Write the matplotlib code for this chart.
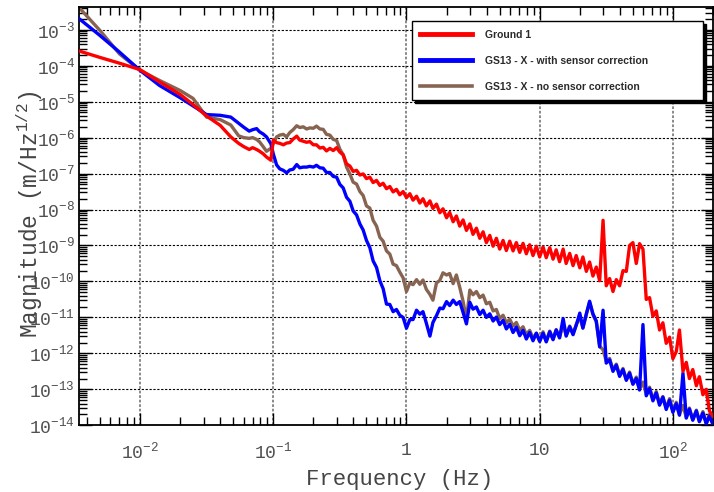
import matplotlib
matplotlib.use('Agg')
import matplotlib.pyplot as plt
import numpy as np
from matplotlib.ticker import LogLocator, FuncFormatter, NullFormatter

plt.rcParams['font.family'] = ['Liberation Mono', 'DejaVu Sans']
plt.rcParams['mathtext.fontset'] = 'custom'
plt.rcParams['mathtext.rm'] = 'Liberation Mono'
plt.rcParams['mathtext.it'] = 'Liberation Mono'

# frequency bins (Hz)
freq = [0.00348, 0.005, 0.007, 0.01, 0.014, 0.02, 0.025, 0.0316, 0.04, 0.048,
        0.055, 0.06, 0.066, 0.07, 0.075, 0.079, 0.084, 0.089, 0.096,
        0.1, 0.106, 0.112, 0.119, 0.126, 0.133, 0.141, 0.15, 0.158, 0.168,
        0.178, 0.188, 0.2, 0.211, 0.224, 0.237, 0.251, 0.266, 0.282, 0.299,
        0.316, 0.335, 0.355, 0.376, 0.398, 0.422, 0.447, 0.473, 0.501, 0.531,
        0.562, 0.596, 0.631, 0.668, 0.708, 0.75, 0.794, 0.841, 0.891, 0.944,
        1.0, 1.06, 1.12, 1.19, 1.26, 1.33, 1.41, 1.5, 1.58, 1.68,
        1.78, 1.88, 2.0, 2.11, 2.24, 2.37, 2.51, 2.66, 2.82, 2.99,
        3.16, 3.35, 3.55, 3.76, 3.98, 4.22, 4.47, 4.73, 5.01, 5.31,
        5.62, 5.96, 6.31, 6.68, 7.08, 7.5, 7.94, 8.41, 8.91, 9.44,
        10, 10.6, 11.2, 11.9, 12.6, 13.3, 14.1, 15, 15.8, 16.8,
        17.8, 18.8, 20, 21.1, 22.4, 23.7, 25.1, 26.6, 28.2, 29.9,
        31.6, 33.5, 35.5, 37.6, 39.8, 42.2, 44.7, 47.3, 50.1, 53.1,
        56.2, 59.6, 63.1, 66.8, 70.8, 75, 79.4, 84.1, 89.1, 94.4,
        100, 106, 112, 119, 126, 133, 141, 150, 158, 168, 178, 188, 200]

# log10 of magnitude (m/Hz^1/2)
ground_log = [-3.59, -3.77, -3.93, -4.11, -4.45, -4.80, -5.08, -5.40, -5.66, -5.98,
              -6.16, -6.25, -6.33, -6.28, -6.33, -6.38, -6.45, -6.54, -6.63,
              -6.07, -6.14, -6.16, -6.20, -6.15, -6.14, -6.04, -5.96, -6.07, -6.10,
              -6.13, -6.11, -6.20, -6.20, -6.29, -6.27, -6.37, -6.30, -6.36, -6.28,
              -6.40, -6.48, -6.73, -6.79, -6.94, -6.91, -7.04, -7.01, -7.14, -7.10,
              -7.25, -7.19, -7.33, -7.27, -7.42, -7.36, -7.51, -7.44, -7.59, -7.50,
              -7.67, -7.56, -7.74, -7.63, -7.82, -7.70, -7.90, -7.76, -7.97, -7.85,
              -8.09, -7.98, -8.23, -8.08, -8.34, -8.18, -8.46, -8.29, -8.58, -8.40,
              -8.69, -8.52, -8.80, -8.62, -8.92, -8.72, -9.02, -8.80, -9.10, -8.86,
              -9.14, -8.88, -9.15, -8.92, -9.19, -8.94, -9.23, -8.98, -9.28, -9.02,
              -9.32, -9.04, -9.34, -9.06, -9.38, -9.12, -9.45, -9.10, -9.50, -9.22,
              -9.56, -9.28, -9.62, -9.32, -9.72, -9.46, -9.85, -9.60, -9.98, -8.30,
              -10.12, -9.92, -10.28, -9.95, -10.12, -9.70, -9.72, -9.00, -8.92, -9.50,
              -8.95, -9.10, -10.50, -10.45, -10.97, -10.82, -11.35, -11.15, -11.72, -11.55,
              -12.15, -11.95, -11.35, -12.50, -12.25, -12.70, -12.45, -12.90, -12.65, -13.15,
              -13.00, -13.60, -13.75]

with_sc_log = [-2.69, -3.16, -3.62, -4.13, -4.55, -4.89, -5.12, -5.36, -5.38, -5.43,
               -5.60, -5.71, -5.82, -5.78, -5.75, -5.84, -5.90, -5.98, -6.17,
               -6.45, -6.76, -6.87, -6.91, -6.98, -6.90, -6.88, -6.75, -6.84, -6.82,
               -6.82, -6.80, -6.82, -6.77, -6.84, -6.85, -6.97, -6.97, -7.08, -7.10,
               -7.30, -7.40, -7.66, -7.77, -8.04, -8.15, -8.40, -8.57, -8.86, -9.06,
               -9.43, -9.61, -9.98, -10.20, -10.63, -10.64, -10.84, -10.78, -10.94, -11.00,
               -11.30, -11.06, -11.06, -10.80, -10.91, -10.84, -11.16, -11.52, -11.14, -10.95,
               -10.74, -10.76, -10.56, -10.67, -10.52, -10.64, -10.56, -10.86, -11.18, -10.58,
               -10.77, -10.71, -10.92, -10.80, -11.00, -10.90, -11.10, -10.99, -11.20, -11.08,
               -11.32, -11.19, -11.42, -11.27, -11.51, -11.36, -11.60, -11.42, -11.65, -11.44,
               -11.67, -11.44, -11.68, -11.40, -11.62, -11.35, -11.57, -11.03, -11.52, -11.26,
               -11.48, -11.22, -10.88, -11.30, -10.90, -10.55, -10.90, -11.10, -11.82, -10.80,
               -12.27, -12.18, -12.50, -12.33, -12.64, -12.45, -12.75, -12.55, -12.86, -12.70,
               -13.02, -11.20, -13.18, -12.98, -13.32, -13.10, -13.44, -13.22, -13.56, -13.30,
               -13.64, -13.40, -13.72, -12.55, -13.80, -13.55, -13.86, -13.60, -13.90, -13.66,
               -13.96, -13.74, -13.98]

no_sc_log = [-2.38, -3.02, -3.67, -4.13, -4.41, -4.69, -4.91, -5.43, -5.50, -5.65,
             -5.95, -6.00, -6.02, -6.00, -6.05, -6.12, -6.25, -6.38, -6.30,
             -6.17, -5.98, -5.93, -5.91, -5.98, -5.86, -5.78, -5.67, -5.72, -5.70,
             -5.76, -5.73, -5.74, -5.68, -5.76, -5.77, -5.91, -5.93, -6.05, -6.08,
             -6.32, -6.48, -6.82, -7.01, -7.24, -7.29, -7.50, -7.61, -7.90, -7.96,
             -8.30, -8.46, -8.77, -8.88, -9.15, -9.24, -9.52, -9.56, -9.74, -9.90,
             -10.28, -10.04, -10.09, -9.95, -10.08, -9.96, -10.22, -10.36, -10.52, -10.04,
             -9.97, -9.76, -9.82, -9.78, -10.06, -9.82, -10.16, -10.55, -11.06, -10.24,
             -10.37, -10.28, -10.45, -10.38, -10.62, -10.58, -10.82, -10.78, -11.03, -10.94,
             -11.15, -11.05, -11.24, -11.14, -11.36, -11.26, -11.48, -11.36, -11.58, -11.44,
             -11.64, -11.40, -11.66, -11.38, -11.60, -11.34, -11.55, -11.20, -11.50, -11.24,
             -11.46, -11.20, -11.00, -11.28, -10.92, -10.58, -10.92, -11.12, -11.80, -11.90,
             -12.22, -12.14, -12.46, -12.30, -12.60, -12.42, -12.72, -12.52, -12.84, -12.66,
             -13.00, -12.80, -13.14, -12.94, -13.28, -13.06, -13.40, -13.20, -13.52, -13.26,
             -13.60, -13.36, -13.70, -13.45, -13.78, -13.52, -13.84, -13.58, -13.88, -13.62,
             -13.94, -13.70, -13.97]

labels = ['Ground 1', 'GS13 - X - with sensor correction', 'GS13 - X - no sensor correction']
colors = ['#ff0000', '#0000ff', '#876452']

fig = plt.figure(figsize=(7.14, 4.92), dpi=100)
ax = fig.add_axes([0.1106, 0.1356, 0.888, 0.851])

f = np.array(freq)
ax.plot(f, 10.0 ** np.array(ground_log), color=colors[0], lw=2.4, label=labels[0], zorder=4)
ax.plot(f, 10.0 ** np.array(with_sc_log), color=colors[1], lw=2.4, label=labels[1], zorder=3)
ax.plot(f, 10.0 ** np.array(no_sc_log), color=colors[2], lw=2.4, label=labels[2], zorder=2)

ax.set_xscale('log')
ax.set_yscale('log')
ax.set_xlim(0.00348, 200)
ax.set_ylim(1e-14, 4.4e-3)

ax.xaxis.set_major_locator(LogLocator(base=10, numticks=20))
ax.yaxis.set_major_locator(LogLocator(base=10, numticks=30))
ax.xaxis.set_minor_locator(LogLocator(base=10, subs=np.arange(2, 10), numticks=200))
ax.yaxis.set_minor_locator(LogLocator(base=10, subs=np.arange(2, 10), numticks=300))
ax.xaxis.set_minor_formatter(NullFormatter())
ax.yaxis.set_minor_formatter(NullFormatter())


def xfmt(v, pos):
    e = int(round(np.log10(v)))
    if e == 0:
        return '1'
    if e == 1:
        return '10'
    return r'$10^{%d}$' % e


def yfmt(v, pos):
    e = int(round(np.log10(v)))
    return r'$10^{%d}$' % e


ax.xaxis.set_major_formatter(FuncFormatter(xfmt))
ax.yaxis.set_major_formatter(FuncFormatter(yfmt))

ax.tick_params(which='both', direction='in', top=True, right=True, colors='black',
               labelcolor='#505050', labelsize=13)
ax.tick_params(which='major', length=9, width=1)
ax.tick_params(which='minor', length=5.5, width=1)
ax.tick_params(axis='x', which='major', pad=12)
ax.tick_params(axis='y', which='major', pad=3)

ax.grid(True, which='major', axis='y', color='black', linestyle=(0, (2, 1.5)), lw=0.8)
ax.grid(True, which='major', axis='x', color='#808080', linestyle=(0, (1.5, 1)), lw=1.3)
for s in ax.spines.values():
    s.set_linewidth(1.3)

fig.text(400 / 714, 1 - 479 / 492, 'Frequency (Hz)', ha='center', va='center',
         fontsize=16, color='#454545')
fig.text(30 / 714, 1 - 214 / 492, 'Magnitude (m/Hz$^{1/2}$)', ha='center', va='center',
         rotation=90, fontsize=16.5, color='#454545')

leg = ax.legend(loc='upper left', bbox_to_anchor=(0.525, 0.786, 0.459, 0.179), mode='expand',
                borderaxespad=0,
                prop={'family': 'Liberation Sans', 'weight': 'bold', 'size': 7.5},
                handlelength=5.0, handletextpad=1.2, labelspacing=1.55, borderpad=0.8,
                fancybox=False, framealpha=1, edgecolor='black',
                shadow={'color': 'black', 'alpha': 1.0})
leg.get_frame().set_linewidth(1.0)
for h in leg.get_lines():
    h.set_linewidth(3.5)
leg.get_lines()[2].set_linewidth(2.6)
for t in leg.get_texts():
    t.set_color('#2a2a2a')

fig.savefig('out.png', dpi=100)
